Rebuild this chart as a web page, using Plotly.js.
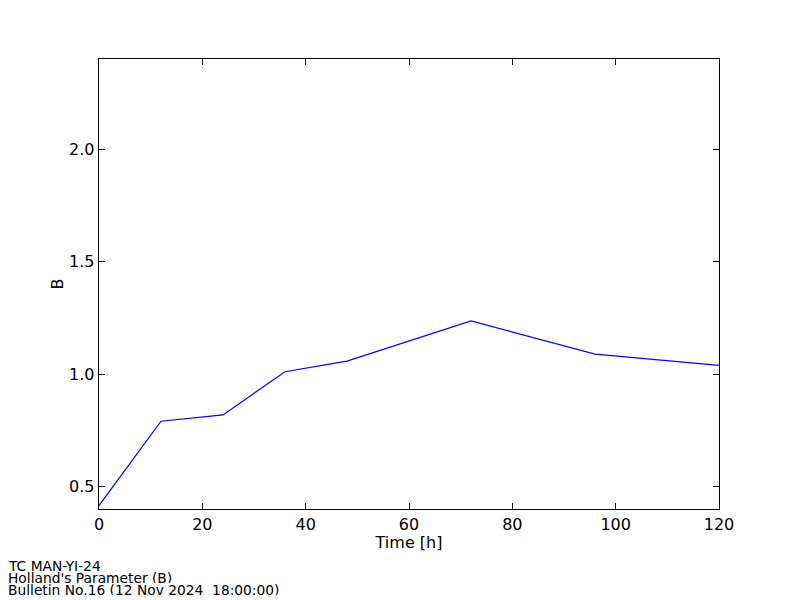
<!DOCTYPE html>
<html>
<head>
<meta charset="utf-8">
<script src="https://cdn.plot.ly/plotly-3.0.1.min.js"></script>
<style>html,body{margin:0;padding:0;background:#fff;}#chart{width:800px;height:600px;}</style>
</head>
<body>
<div id="chart"></div>
<script>
const hours = [0, 12, 24, 36, 48, 72, 96, 120];
const bValues = [0.415, 0.79, 0.818, 1.01, 1.057, 1.236, 1.088, 1.038];
const xTicks = [0, 20, 40, 60, 80, 100, 120];
const yTicks = [0.5, 1.0, 1.5, 2.0];
const yTickLabels = ["0.5", "1.0", "1.5", "2.0"];
const footerLines = ["TC MAN-YI-24", "Holland's Parameter (B)", "Bulletin No.16 (12 Nov 2024  18:00:00)"];

const font = "DejaVu Sans, sans-serif";
const axisCommon = {
  showline: true, linecolor: "#000", linewidth: 1.3, mirror: "ticks",
  ticks: "inside", ticklen: 6, tickwidth: 1, tickcolor: "#000",
  showgrid: false, zeroline: false,
  tickfont: {family: font, size: 16, color: "#000"}
};
const annotations = footerLines.map((t, i) => ({
  text: t, xref: "paper", yref: "paper",
  x: -92/620, y: -(565 + 12*i - 509)/450,
  xanchor: "left", yanchor: "middle", showarrow: false,
  height: 11, borderpad: 0,
  font: {family: font, size: 13.8, color: "#000"}
}));

Plotly.newPlot("chart", [{
  x: hours, y: bValues, type: "scatter", mode: "lines",
  line: {color: "#0000ff", width: 1.2}, hoverinfo: "none"
}], {
  width: 800, height: 600,
  margin: {l: 99, r: 81, t: 59, b: 91, pad: 0},
  paper_bgcolor: "#fff", plot_bgcolor: "#fff",
  showlegend: false,
  xaxis: Object.assign({}, axisCommon, {
    range: [0, 120], tickvals: xTicks,
    title: {text: "Time [h]", font: {family: font, size: 16, color: "#000"}, standoff: 1}
  }),
  yaxis: Object.assign({}, axisCommon, {
    range: [0.4, 2.4], tickvals: yTicks, ticktext: yTickLabels,
    title: {text: "B", font: {family: font, size: 16, color: "#000"}, standoff: 1}
  }),
  annotations: annotations
}, {displayModeBar: false, staticPlot: true});
</script>
</body>
</html>
